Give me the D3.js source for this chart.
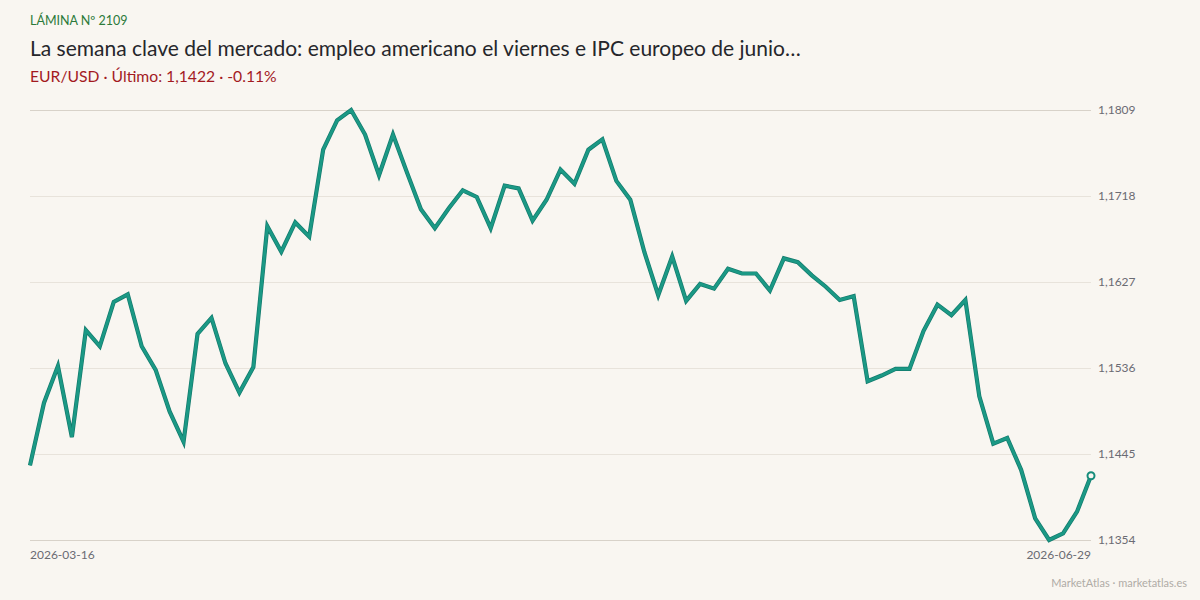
<!DOCTYPE html>
<html lang="es">
<head>
<meta charset="utf-8">
<script src="https://cdn.jsdelivr.net/npm/d3@7"></script>
<style>
  html, body { margin: 0; padding: 0; background: #f9f6f1; }
  svg { display: block; font-family: Lato, "Noto Sans", sans-serif; }
</style>
</head>
<body>
<div id="chart"></div>
<script>
// cierres EUR/USD, sesión a sesión
const closes = [
  1.1433, 1.1499, 1.1538, 1.1463, 1.1576, 1.1559, 1.1606, 1.1614, 1.1559, 1.1534,
  1.1490, 1.1458, 1.1572, 1.1589, 1.1541, 1.1510, 1.1537, 1.1686, 1.1659, 1.1690,
  1.1675, 1.1767, 1.1798, 1.1809, 1.1783, 1.1740, 1.1783, 1.1743, 1.1704, 1.1684,
  1.1705, 1.1724, 1.1717, 1.1684, 1.1729, 1.1726, 1.1692, 1.1714, 1.1746, 1.1731,
  1.1767, 1.1778, 1.1734, 1.1714, 1.1659, 1.1613, 1.1654, 1.1607, 1.1625, 1.1620,
  1.1641, 1.1636, 1.1636, 1.1618, 1.1652, 1.1648, 1.1634, 1.1622, 1.1608, 1.1612,
  1.1522, 1.1528, 1.1535, 1.1535, 1.1575, 1.1603, 1.1592, 1.1608, 1.1506, 1.1456,
  1.1462, 1.1428, 1.1377, 1.1354, 1.1361, 1.1384, 1.1422
];
const yTicks = [1.1354, 1.1445, 1.1536, 1.1627, 1.1718, 1.1809];
const dateLabels = ['2026-03-16', '2026-06-29'];

const W = 1200, H = 600;
const m = { left: 30, right: 1091, top: 110, bottom: 540 };

const fmt = d3.formatLocale({ decimal: ',', thousands: '.', grouping: [3], currency: ['', '€'] }).format('.4f');

const svg = d3.select('#chart').append('svg')
  .attr('width', W).attr('height', H);

svg.append('rect').attr('width', W).attr('height', H).attr('fill', '#f9f6f1');

// escalas
const x = d3.scaleLinear().domain([0, closes.length - 1]).range([m.left, m.right]);
const y = d3.scaleLinear().domain([yTicks[0], yTicks[yTicks.length - 1]]).range([m.bottom, m.top]);

// cabecera
svg.append('text').attr('x', 30).attr('y', 25)
  .attr('fill', '#2c7a3a').attr('font-size', 12.5).text('LÁMINA Nº 2109');
svg.append('text').attr('x', 30).attr('y', 56)
  .attr('fill', '#26262b').attr('font-size', 21).text('La semana clave del mercado: empleo americano el viernes e IPC europeo de junio…');
svg.append('text').attr('x', 30).attr('y', 82)
  .attr('fill', '#a31a1f').attr('font-size', 15.7).text('EUR/USD · Último: 1,1422 · -0.11%');

// rejilla y etiquetas del eje y
const yAxis = svg.append('g');
yAxis.selectAll('line').data(yTicks).join('line')
  .attr('x1', m.left).attr('x2', m.right)
  .attr('y1', d => Math.round(y(d)) + 0.5).attr('y2', d => Math.round(y(d)) + 0.5)
  .attr('stroke', (d, i) => (i === 0 || i === yTicks.length - 1) ? '#d8d2c9' : '#e8e3db')
  .attr('stroke-width', 1);
yAxis.selectAll('text').data(yTicks).join('text')
  .attr('x', 1098).attr('y', d => y(d)).attr('dy', '0.35em')
  .attr('fill', '#6b6b73').attr('font-size', 12)
  .text(d => fmt(d));

// fechas inicio/fin
svg.append('text').attr('x', x(0)).attr('y', 559)
  .attr('fill', '#6b6b73').attr('font-size', 12).text(dateLabels[0]);
svg.append('text').attr('x', x(closes.length - 1)).attr('y', 559)
  .attr('text-anchor', 'end')
  .attr('fill', '#6b6b73').attr('font-size', 12).text(dateLabels[1]);

// línea
const line = d3.line().x((d, i) => x(i)).y(d => y(d));
svg.append('path').datum(closes)
  .attr('d', line).attr('fill', 'none')
  .attr('stroke', '#137a6d').attr('stroke-width', 4.2)
  .attr('stroke-linejoin', 'miter');
svg.append('path').datum(closes)
  .attr('d', line).attr('fill', 'none')
  .attr('stroke', '#1b9985').attr('stroke-width', 2.8)
  .attr('stroke-linejoin', 'miter');

// último punto
const last = closes.length - 1;
svg.append('circle').attr('cx', x(last)).attr('cy', y(closes[last]))
  .attr('r', 3.5).attr('fill', '#f9f6f1')
  .attr('stroke', '#168c7b').attr('stroke-width', 2);

// pie
svg.append('text').attr('x', 1187).attr('y', 587).attr('text-anchor', 'end')
  .attr('fill', '#b0aca6').attr('font-size', 11).text('MarketAtlas · marketatlas.es');
</script>
</body>
</html>
